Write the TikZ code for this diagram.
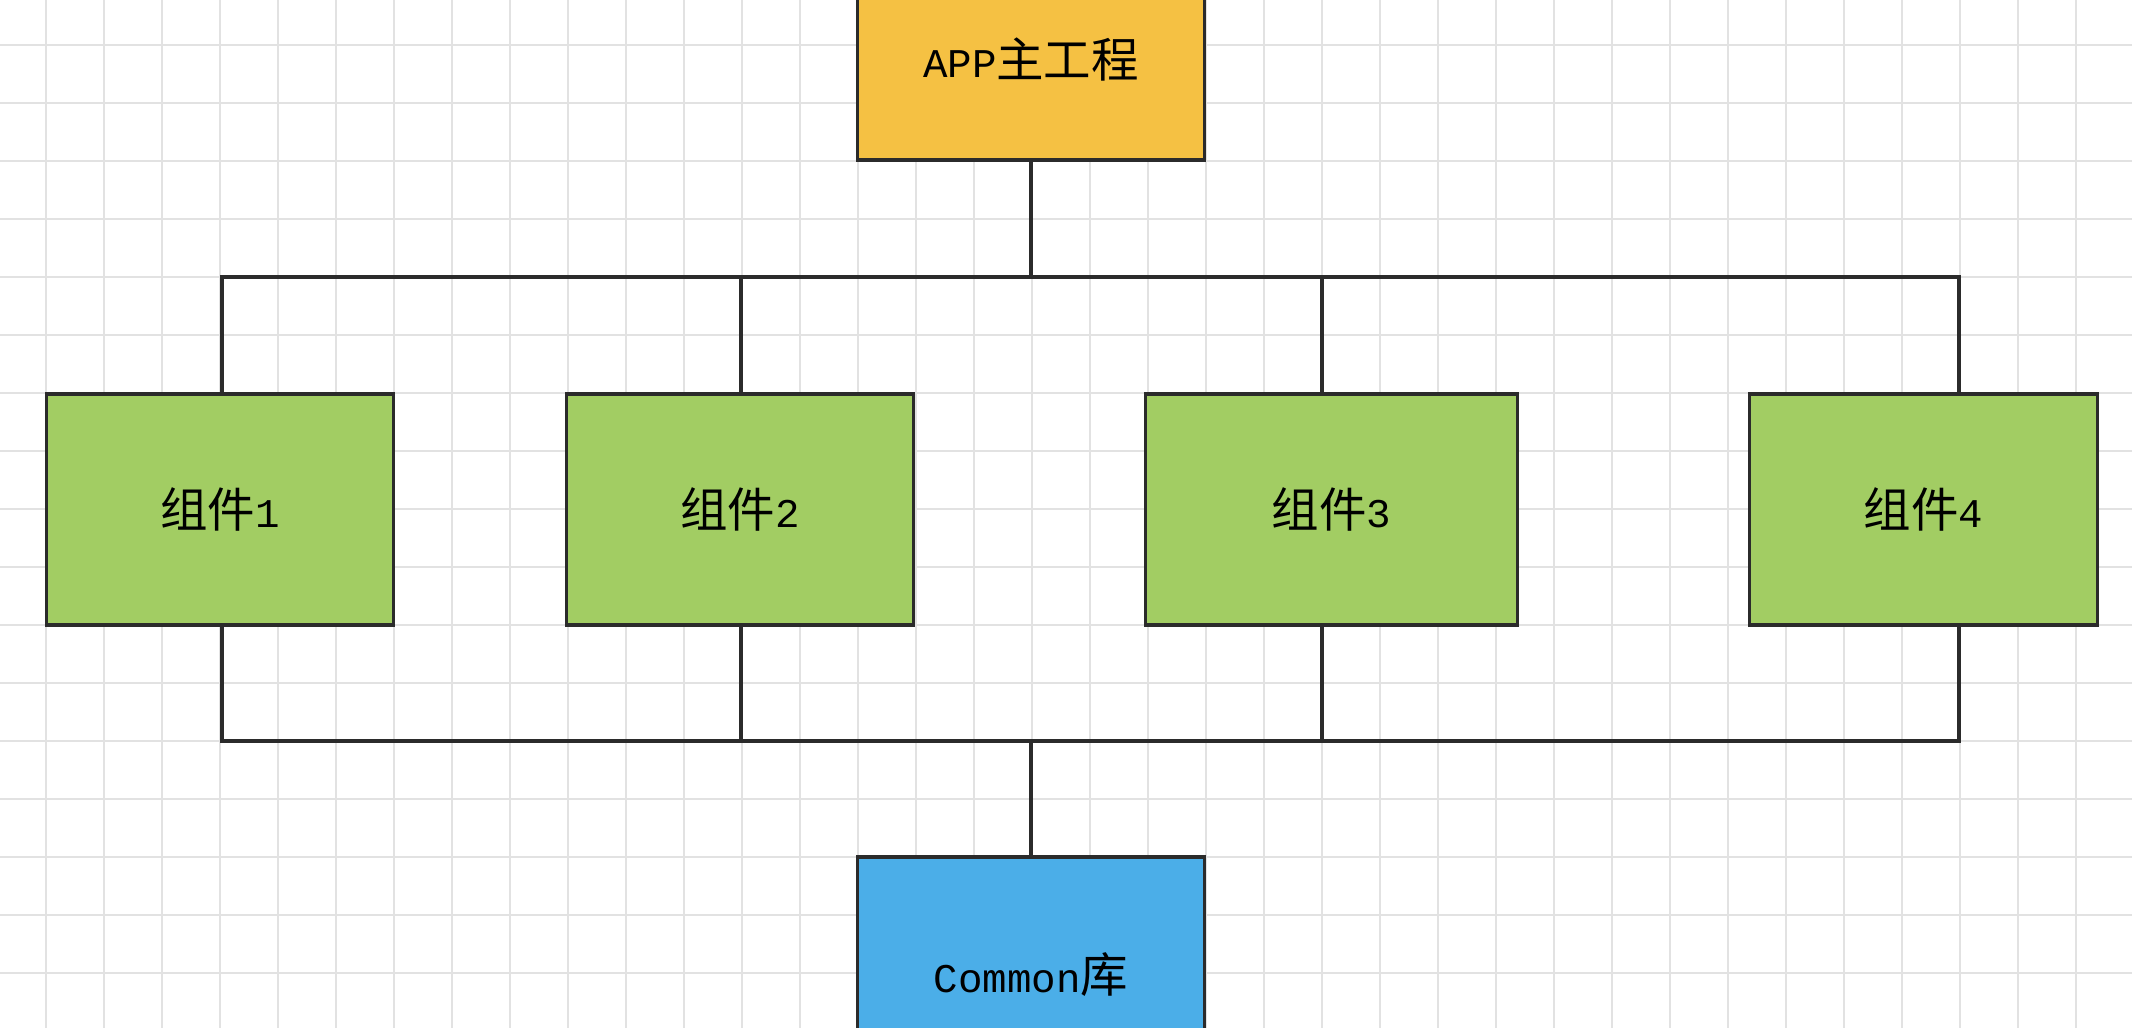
\documentclass[tikz,border=0pt]{standalone}
\usepackage{fontspec}
\setmainfont{Liberation Mono}
\newfontfamily\cjk{Noto Sans CJK SC}
\usetikzlibrary{positioning}
\definecolor{appyel}{HTML}{F5C143}
\definecolor{compgreen}{HTML}{A2CD63}
\definecolor{libblue}{HTML}{4BAEE8}
\definecolor{gridgray}{HTML}{E2E2E2}
\definecolor{edge}{HTML}{2B2B2B}
\newcommand{\zhtxt}[1]{{\cjk\fontsize{13.5}{16}\selectfont #1}}

\begin{document}
\begin{tikzpicture}[x=0.01cm,y=-0.01cm,every node/.style={font=\fontsize{11.6}{14}\selectfont,align=center},box/.style={draw=edge,line width=0.9pt,minimum width=3.47cm,minimum height=2.31cm,inner sep=0pt},wire/.style={draw=edge,line width=0.9pt},gridline/.style={draw=gridgray,line width=0.65pt}]
\useasboundingbox (0,0) rectangle (2132,1028);
\clip (0,0) rectangle (2132,1028);
\fill[white] (0,0) rectangle (2132,1028);
% background grid
\foreach \i in {0,...,35} \draw[gridline] ({46+58*\i},0) -- ({46+58*\i},1028);
\foreach \j in {0,...,16} \draw[gridline] (0,{45+58*\j}) -- (2132,{45+58*\j});
% boxes
\node[box,fill=appyel,minimum height=2cm] (app) at (1031,60) {APP\zhtxt{主工程}};
\node[box,fill=compgreen] (c1) at (220,509.5) {\zhtxt{组件}1};
\node[box,fill=compgreen] (c2) at (740,509.5) {\zhtxt{组件}2};
\node[box,fill=compgreen,minimum width=3.71cm] (c3) at (1331.5,509.5) {\zhtxt{组件}3};
\node[box,fill=compgreen] (c4) at (1923.5,509.5) {\zhtxt{组件}4};
\node[box,fill=libblue,minimum height=2.36cm] (lib) at (1031,975) {Common\zhtxt{库}};
% bus points
\coordinate (tbus) at (1031,277);
\coordinate (bbus) at (1031,741);
\coordinate (d1) at (222,277);
\coordinate (d2) at (741,277);
\coordinate (d3) at (1322,277);
\coordinate (d4) at (1959,277);
% connectors
\draw[wire] (app.south) -- (tbus);
\draw[wire] (d1 |- c1.north) -- (d1) -- (d4) -- (d4 |- c4.north);
\draw[wire] (d2) -- (d2 |- c2.north);
\draw[wire] (d3) -- (d3 |- c3.north);
\draw[wire] (d1 |- c1.south) -- (d1 |- bbus) -- (d4 |- bbus) -- (d4 |- c4.south);
\draw[wire] (d2 |- c2.south) -- (d2 |- bbus);
\draw[wire] (d3 |- c3.south) -- (d3 |- bbus);
\draw[wire] (bbus) -- (lib.north);
\end{tikzpicture}
\end{document}
